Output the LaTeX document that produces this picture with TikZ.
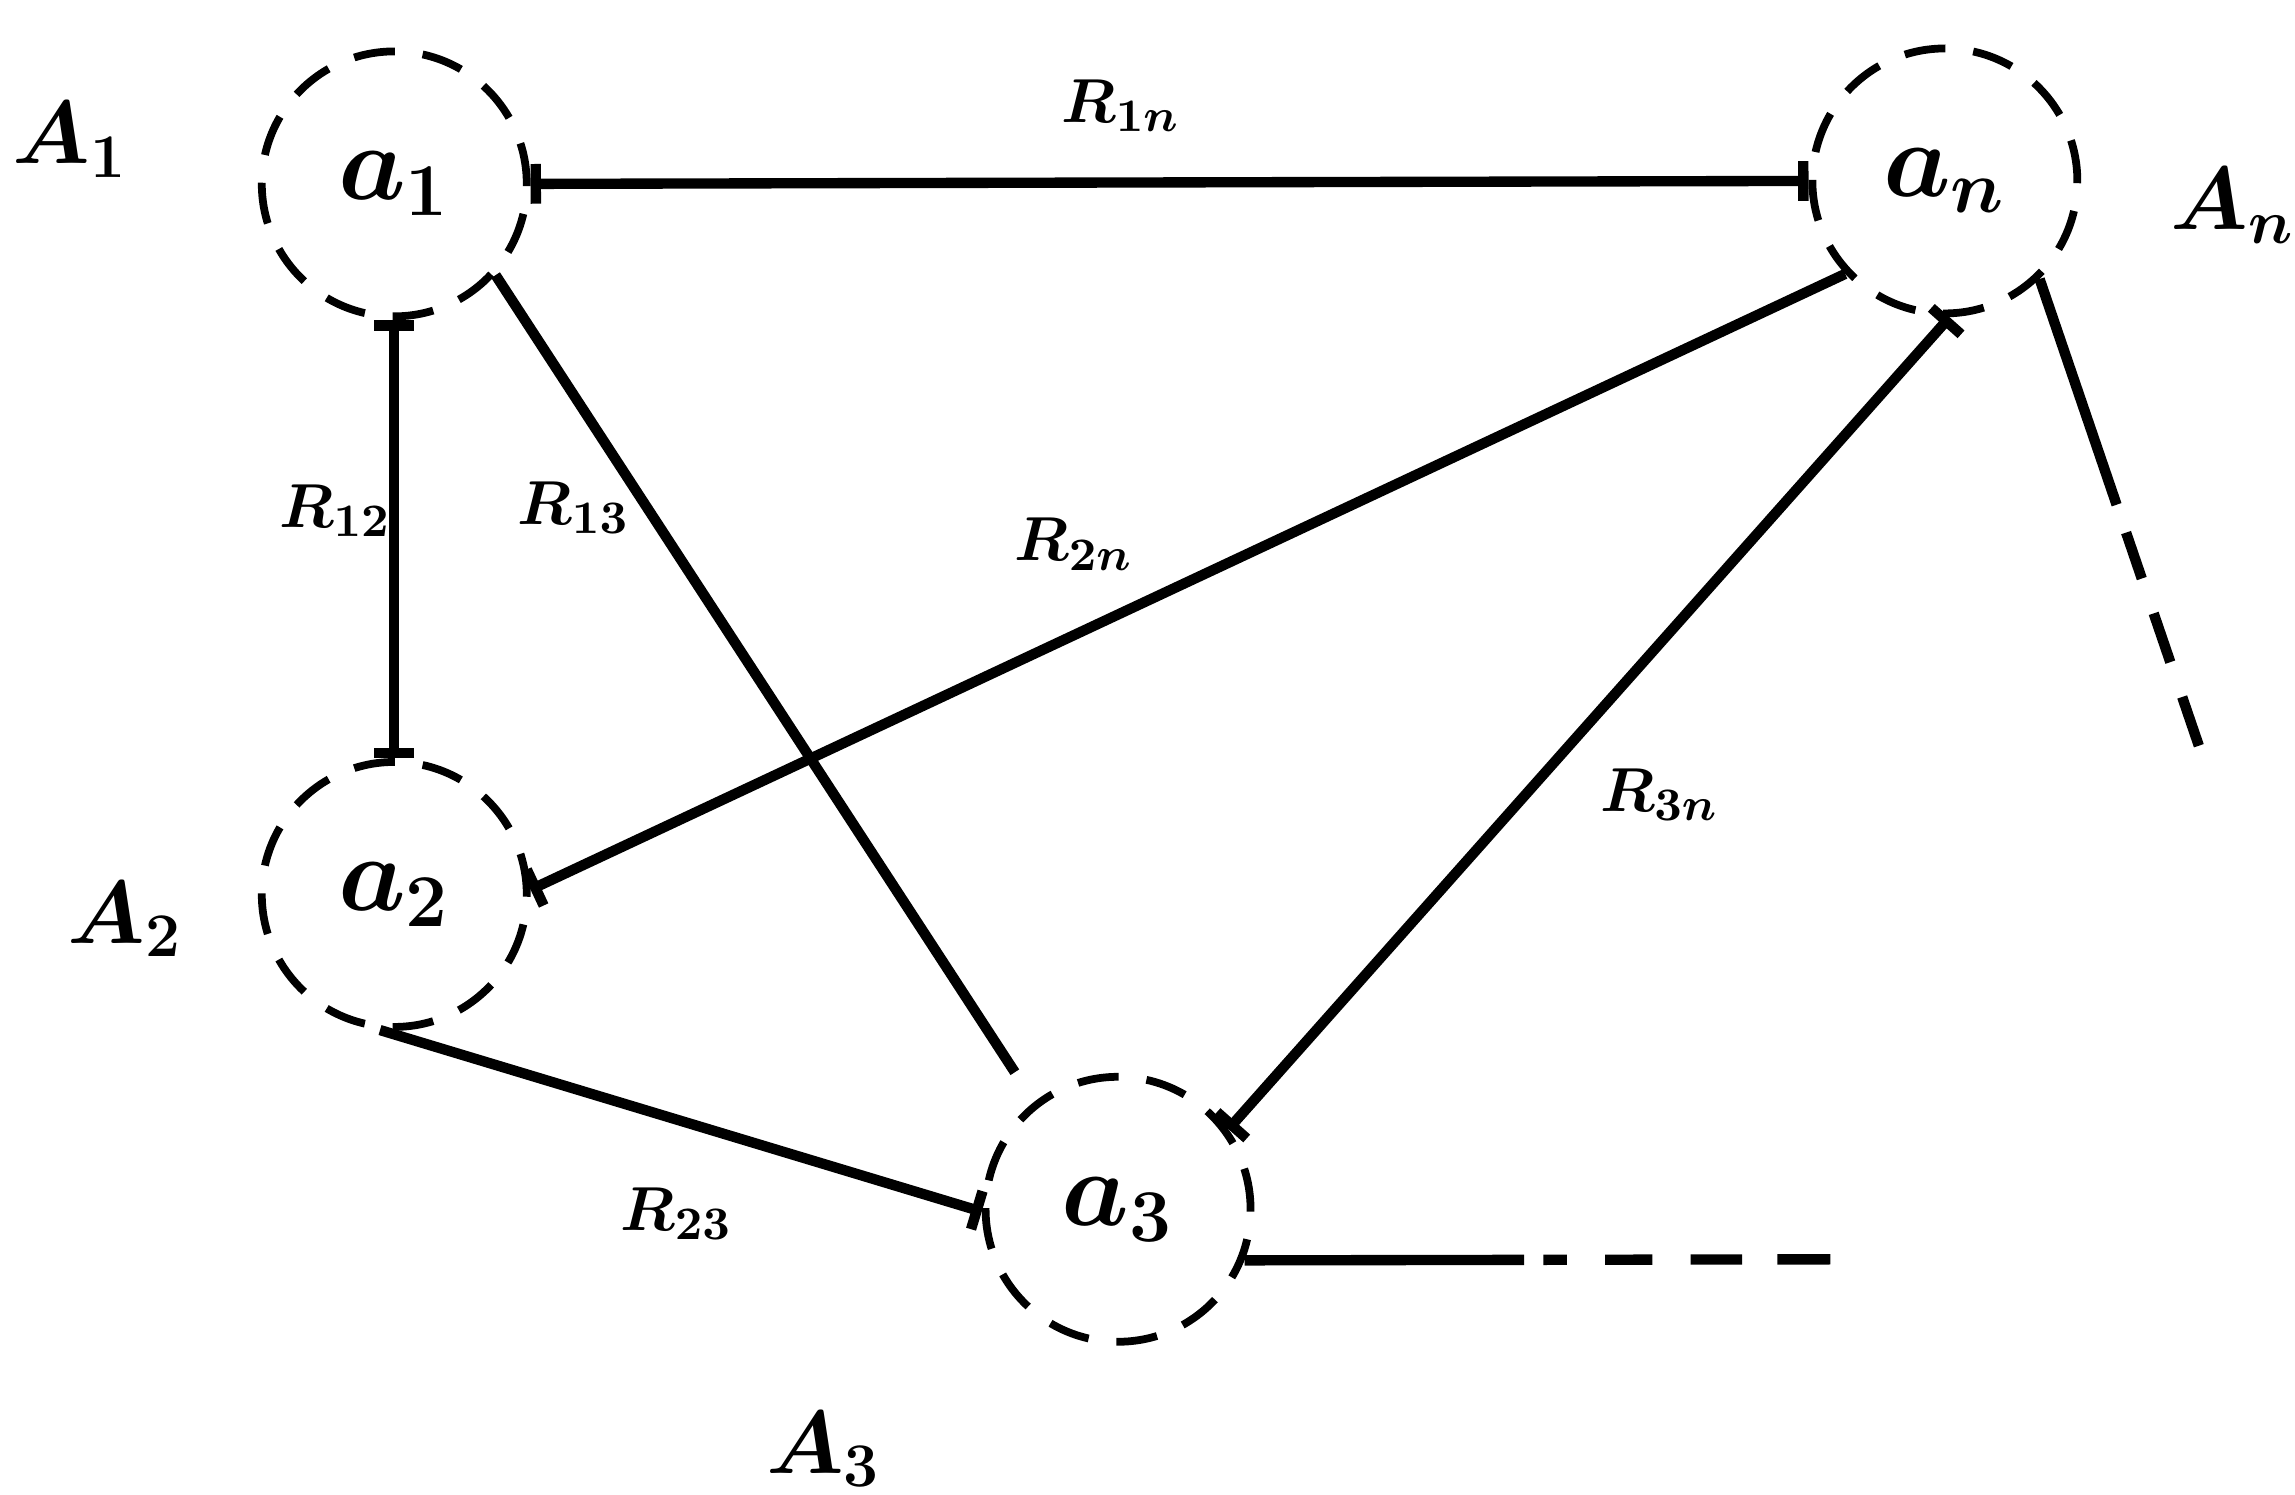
\documentclass[tikz,border=0pt]{standalone}
\usepackage{bm}
\usetikzlibrary{arrows.meta}
\begin{document}
\begin{tikzpicture}[x=0.01cm,y=-0.01cm,
  agent/.style={circle,draw,line width=1.5pt,dash pattern=on 0.28cm off 0.19cm,minimum size=1.8cm,inner sep=0pt,font=\fontsize{22}{24}\selectfont\boldmath},
  grp/.style={font=\fontsize{17}{20}\selectfont\boldmath},
  rel/.style={font=\fontsize{13}{15}\selectfont\boldmath},
  link/.style={line width=2pt},
  bb/.style={link,{Bar[width=0.27cm]}-{Bar[width=0.27cm]}},
  pb/.style={link,-{Bar[width=0.27cm]}},
  bp/.style={link,{Bar[width=0.27cm]}-}
]
\useasboundingbox (0,0) rectangle (1560,1016);
% agents
\node[agent] (a1) at (268,125) {$a_1$};
\node[agent] (a2) at (268,608) {$a_2$};
\node[agent] (a3) at (760,822) {$a_3$};
\node[agent] (an) at (1322,123) {$a_n$};
% group labels
\node[grp] (A1) at (48,95) {$A_1$};
\node[grp] (A2) at (85,625) {$A_2$};
\node[grp] (A3) at (560,985) {$A_3$};
\node[grp] (An) at (1518,140) {$A_n$};
% relation labels
\node[rel] (R1n) at (762,72) {$R_{1n}$};
\node[rel] (R12) at (228,347) {$R_{12}$};
\node[rel] (R13) at (390,345) {$R_{13}$};
\node[rel] (R2n) at (730,370) {$R_{2n}$};
\node[rel] (R3n) at (1128,540) {$R_{3n}$};
\node[rel] (R23) at (460,825) {$R_{23}$};
% free ends
\coordinate (en) at (1495,508);
\coordinate (e3) at (1252,856);
% connectors
\draw[bb] (a1.east) -- (an.west);
\draw[bb] (a1.south) -- (a2.north);
\draw[link,shorten >=0.24cm] (a1.-42) -- (a3.128);
\draw[bp] (a2.2) -- (an.-137);
\draw[bb] (a3.36) -- (an.-88);
\draw[pb] (a2.-96) -- (a3.181);
\draw[link,dash pattern=on 1.62cm off 0.2cm on 0.33cm off 0.25cm on 0.35cm off 0.25cm on 0.35cm off 1cm] (an.-46) -- (en);
\draw[link,dash pattern=on 1.9cm off 0.13cm on 0.16cm off 0.26cm on 0.32cm off 0.26cm on 0.35cm off 0.24cm on 0.36cm off 1cm] (a3.-22) -- (e3);
\end{tikzpicture}
\end{document}
